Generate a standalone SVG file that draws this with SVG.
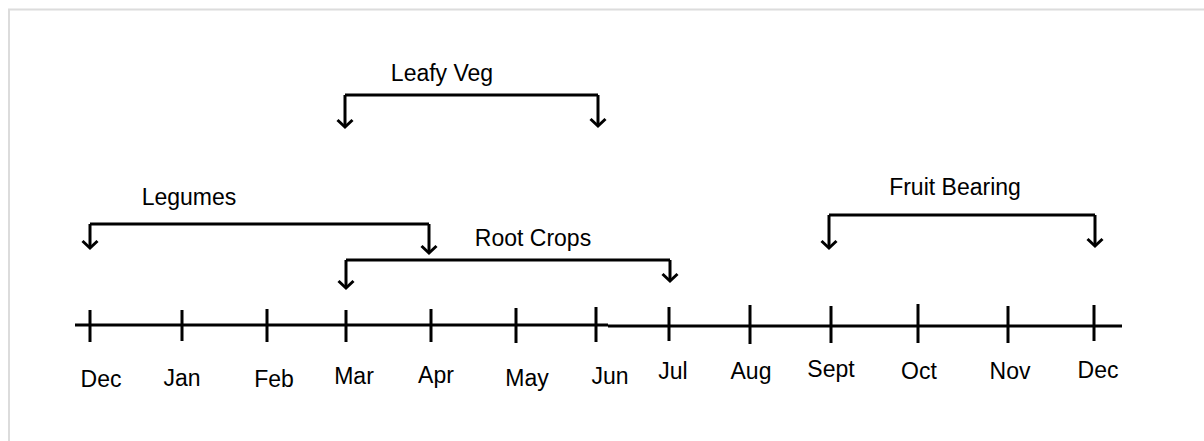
<svg xmlns="http://www.w3.org/2000/svg" width="1204" height="441" viewBox="0 0 1204 441">
<defs>
<marker id="ah" markerUnits="userSpaceOnUse" markerWidth="20" markerHeight="20" refX="0" refY="0" viewBox="-10 -10 20 20" orient="auto" overflow="visible">
<path d="M-7,-7.5 L0,0 L-7,7.5" fill="none" stroke="#000" stroke-width="3" stroke-linejoin="miter"/>
</marker>
</defs>
<style>
.lbl{font-family:"Liberation Sans",Arial,sans-serif;font-size:23px;fill:#000;text-anchor:middle}
.br{fill:none;stroke:#000;stroke-width:3;marker-end:url(#ah)}
.ln{stroke:#000;stroke-width:3;fill:none}
</style>
<rect x="0" y="0" width="1204" height="441" fill="#fff"/>
<path d="M9,441 L9,9.5 L1204,9.5" fill="none" stroke="#dcdcdc" stroke-width="2"/>
<g id="timeline">
<path class="ln" d="M75,325 L608,325 M608,326 L1122,326"/>
<path class="ln" d="M90,310 V342 M182,310 V341 M267,309 V342 M346,310 V342 M431,309 V342 M516,308 V343 M596,307 V342 M669,307 V341 M750,305 V344 M831,306 V343 M918,304 V343 M1008,306 V343 M1094,305 V341"/>
</g>
<g id="months">
<text class="lbl" x="101" y="387">Dec</text>
<text class="lbl" x="182" y="386">Jan</text>
<text class="lbl" x="274" y="387">Feb</text>
<text class="lbl" x="354" y="384">Mar</text>
<text class="lbl" x="436" y="383">Apr</text>
<text class="lbl" x="527" y="386">May</text>
<text class="lbl" x="610" y="384">Jun</text>
<text class="lbl" x="673" y="379">Jul</text>
<text class="lbl" x="751" y="379">Aug</text>
<text class="lbl" x="831" y="377">Sept</text>
<text class="lbl" x="919" y="379">Oct</text>
<text class="lbl" x="1010" y="379">Nov</text>
<text class="lbl" x="1098" y="378">Dec</text>
</g>
<g id="connectors">
<path class="br" d="M345,95 L345,127"/>
<path class="br" d="M598,95 L598,126"/>
<path class="br" d="M90,224 L90,248"/>
<path class="br" d="M429,224 L429,253"/>
<path class="br" d="M346,260 L346,288"/>
<path class="br" d="M670,260 L670,281"/>
<path class="br" d="M829,215 L829,248"/>
<path class="br" d="M1095,215 L1095,246"/>
<path class="ln" d="M345,95 H598 M90,224 H429 M346,260 H670 M829,215 H1095"/>
</g>
<g id="leafy"><text class="lbl" x="442" y="81">Leafy Veg</text></g>
<g id="legumes"><text class="lbl" x="189" y="205">Legumes</text></g>
<g id="root"><text class="lbl" x="533" y="246">Root Crops</text></g>
<g id="fruit"><text class="lbl" x="955" y="195">Fruit Bearing</text></g>
</svg>
